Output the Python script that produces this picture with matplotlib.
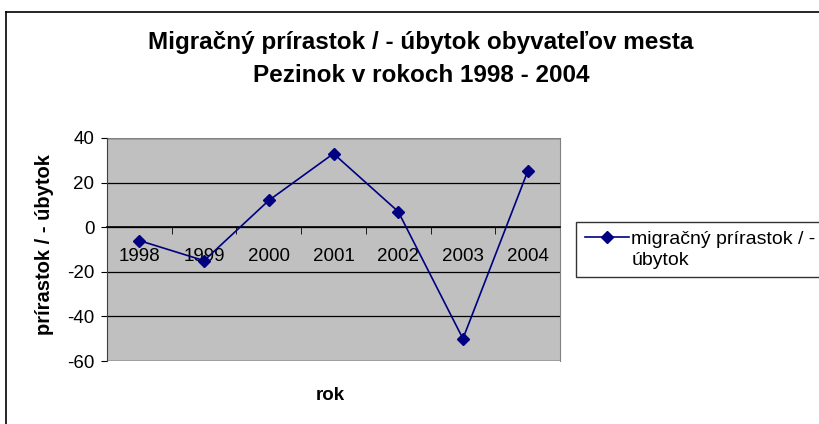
import matplotlib
matplotlib.use("Agg")
import matplotlib.pyplot as plt
from matplotlib.lines import Line2D
from matplotlib.legend_handler import HandlerLine2D

plt.rcParams["font.family"] = ["Liberation Sans", "DejaVu Sans"]
plt.rcParams["axes.unicode_minus"] = False

years = ["1998", "1999", "2000", "2001", "2002", "2003", "2004"]
values = [-6, -15, 12, 33, 7, -50, 25]
yticks = [-60, -40, -20, 0, 20, 40]


class FirstLineHandler(HandlerLine2D):
    # put the legend key level with the first text line, as Excel does
    def create_artists(self, legend, orig_handle, xdescent, ydescent,
                       width, height, fontsize, trans):
        return super().create_artists(legend, orig_handle, xdescent,
                                      ydescent - 18, width, height,
                                      fontsize, trans)


W, H = 819, 424
fig = plt.figure(figsize=(W / 100, H / 100), dpi=100)

# chart-area frame (left and top edges visible)
fig.add_artist(Line2D([6 / W, 6 / W], [0, 1 - 12 / H], color="black", lw=1.2))
fig.add_artist(Line2D([6 / W, 1], [1 - 12 / H, 1 - 12 / H], color="black", lw=1.2))

x0, x1, ytop, ybot = 107, 560, 138, 361
ax = fig.add_axes([x0 / W, 1 - ybot / H, (x1 - x0) / W, (ybot - ytop) / H])
ax.set_facecolor("#C0C0C0")

xs = list(range(len(years)))
line, = ax.plot(xs, values, color="#000080", lw=1.2, marker="D", ms=6, zorder=3,
                label="migračný prírastok / -\núbytok")

ax.set_xlim(-0.5, len(years) - 0.5)
ax.set_ylim(-60, 40)
ax.set_yticks(yticks)
ax.yaxis.grid(True, color="black", lw=0.9)
ax.set_axisbelow(True)
ax.tick_params(axis="y", labelsize=13.5, length=4, direction="out", pad=5)

# category axis crossing at zero
ax.spines["bottom"].set_position(("data", 0))
ax.spines["bottom"].set_linewidth(1.2)
ax.spines["top"].set_visible(False)
ax.spines["right"].set_color("#808080")
ax.spines["left"].set_color("#404040")
ax.set_xticks(xs)
ax.set_xticklabels(years)
ax.set_xticks([i - 0.5 for i in range(len(years) + 1)], minor=True)
ax.tick_params(axis="x", which="major", length=0, labelsize=13.5, pad=15)
ax.tick_params(axis="x", which="minor", length=5, direction="out")

# top/bottom border of plot area in gray
ax.add_artist(Line2D([0, 1], [1, 1], transform=ax.transAxes, color="#808080", lw=1.0))
ax.add_artist(Line2D([0, 1], [0, 0], transform=ax.transAxes, color="#808080", lw=1.0))

fig.text(421 / W, 1 - 43 / H, "Migračný prírastok / - úbytok obyvateľov mesta",
         ha="center", va="center", fontsize=17.5, fontweight="bold")
fig.text(421 / W, 1 - 75 / H, "Pezinok v rokoch 1998 - 2004",
         ha="center", va="center", fontsize=17.5, fontweight="bold")
fig.text(45 / W, 1 - 245 / H, "prírastok / - úbytok", rotation=90,
         ha="center", va="center", fontsize=14.5, fontweight="bold")
fig.text(330 / W, 1 - 396 / H, "rok", ha="center", va="center",
         fontsize=13.5, fontweight="bold")

leg = ax.legend(handler_map={line: FirstLineHandler()},
                loc="upper left", bbox_to_anchor=(576 / W, 1 - 222 / H),
                bbox_transform=fig.transFigure, fontsize=14, frameon=True,
                fancybox=False, edgecolor="black", borderpad=0.45,
                handlelength=2.3, handletextpad=0.1, borderaxespad=0)
leg.get_frame().set_linewidth(1.0)
for t in leg.get_texts():
    t.set_linespacing(1.3)

fig.savefig("out.png", dpi=100)
